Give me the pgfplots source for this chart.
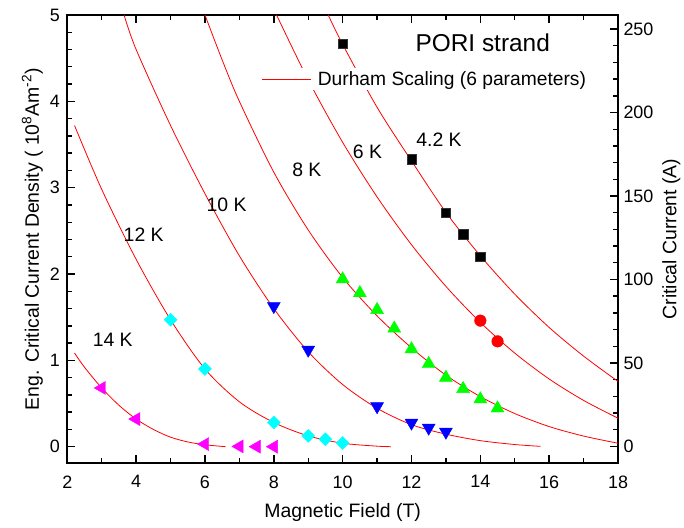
\documentclass[border=0pt]{standalone}
\usepackage{fontspec}
\setmainfont{Liberation Sans}
\usepackage{pgfplots}
\pgfplotsset{compat=1.18}

\definecolor{mkgreen}{RGB}{0,255,0}
\definecolor{mkblue}{RGB}{0,0,255}
\definecolor{mkcyan}{RGB}{0,255,255}
\definecolor{mkmagenta}{RGB}{255,0,255}
\definecolor{mkred}{RGB}{255,0,0}

\pgfplotsset{
  jcframe/.style={
    at={(0,0)}, anchor=south west, scale only axis,
    width=550.7bp, height=448bp,
    xmin=2, xmax=18,
    tick align=inside,
    major tick length=8bp, minor tick length=5bp,
    every tick/.style={black, line width=1.4bp},
    /pgf/number format/assume math mode=true,
    ticklabel style={font=\fontsize{18}{18}\selectfont},
    label style={font=\fontsize{19.5}{22}\selectfont},
  },
  fit/.style={mkred, line width=0.8bp, smooth, no markers},
}

\begin{document}
\begin{tikzpicture}
\useasboundingbox (-67.3bp,-65bp) rectangle (616.7bp,463bp);

% right-hand scale: critical current of the strand
\begin{axis}[
  jcframe,
  ymin=-9.9, ymax=258.4,
  axis x line=none,
  axis y line*=right,
  y axis line style={line width=1.8bp},
  ytick={0,50,...,250}, minor y tick num=4,
  yticklabel style={xshift=2bp},
  ylabel={Critical Current (A)},
  ylabel style={xshift=0bp, yshift=-2bp},
]
\addplot[draw=none, forget plot] coordinates {(2,0)};
\end{axis}

% left-hand scale: engineering critical current density
\begin{axis}[
  jcframe,
  ymin=-0.189, ymax=5,
  axis line style={line width=1.8bp},
  xtick={2,4,...,18}, minor x tick num=1,
  xtick pos=both, xticklabel pos=lower,
  xticklabel style={yshift=-9bp},
  ytick={0,...,5}, minor y tick num=4,
  ytick pos=left,
  yticklabel style={xshift=-4bp},
  xlabel={Magnetic Field (T)},
  xlabel style={yshift=-8bp},
  ylabel={Eng. Critical Current Density ( 10\textsuperscript{8}Am\textsuperscript{-2})},
  legend style={
    at={(axis description cs:0.346,0.857)}, anchor=west,
    draw=none, fill=white, inner xsep=4bp, inner ysep=1bp,
    font=\fontsize{19.3}{21}\selectfont,
  },
  legend image code/.code={\draw[#1] (0bp,0bp) -- (49bp,0bp); \path (53bp,0bp);},
]

% Durham scaling fits
\addplot[fit] coordinates {
  (9.58,5.0) (10,4.66) (11,3.931) (12,3.31) (13,2.714) (14,2.211)
  (15,1.767) (16,1.381) (17,1.049) (18,0.756)};
\addlegendentry{Durham Scaling (6 parameters)}
\addplot[fit, forget plot] coordinates {
  (8.08,5.0) (9,4.248) (10,3.525) (11,2.893) (12,2.339) (13,1.857)
  (14,1.44) (15,1.084) (16,0.784) (17,0.536) (18,0.33)};
\addplot[fit, forget plot] coordinates {
  (6.0,5.0) (6.5,4.479) (7,3.999) (8,3.179) (9,2.510) (10,1.96)
  (11,1.515) (12,1.145) (13,0.828) (14,0.58) (15,0.384) (16,0.233)
  (17,0.123) (18,0.04)};
\addplot[fit, forget plot] coordinates {
  (3.65,5.0) (4,4.6) (5,3.72) (6,2.93) (7,2.21) (8,1.6) (9,1.1)
  (10,0.72) (11,0.445) (12,0.255) (13,0.145) (14,0.07) (15,0.025)
  (15.75,0.004)};
\addplot[fit, forget plot] coordinates {
  (2.21,3.72) (3,2.98) (4,2.17) (5,1.47) (6,0.90) (7,0.52) (8,0.28)
  (9,0.125) (10,0.04) (11,0.006) (11.4,0.0)};
\addplot[fit, forget plot] coordinates {
  (2.21,1.085) (2.5,0.92) (3,0.68) (3.5,0.48) (4,0.32) (4.5,0.2)
  (5,0.11) (5.5,0.055) (6,0.022) (6.6,0.0)};

% measured points
% 4.2 K
\addplot[only marks, forget plot, mark=square*, mark size=4.7bp,
  mark options={fill=black, draw=black!80}] coordinates {
  (10,4.67) (12,3.33) (13,2.71) (13.5,2.46) (14,2.20)};
% 6 K
\addplot[only marks, forget plot, mark=*, mark size=5.8bp,
  mark options={fill=mkred, draw=mkred}] coordinates {
  (14,1.46) (14.5,1.22)};
% 8 K
\addplot[only marks, forget plot, mark=triangle*, mark size=7.5bp,
  mark options={fill=mkgreen, draw=mkgreen}] coordinates {
  (10,1.94) (10.5,1.78) (11,1.585) (11.5,1.37) (12,1.13) (12.5,0.96)
  (13,0.80) (13.5,0.67) (14,0.55) (14.5,0.445)};
% 10 K
\addplot[only marks, forget plot, mark=triangle*, mark size=7.5bp,
  mark options={fill=mkblue, draw=mkblue, rotate=180}] coordinates {
  (8,1.627) (9,1.122) (11,0.467) (12,0.277) (12.5,0.219) (13,0.172)};
% 12 K
\addplot[only marks, forget plot, mark=square*, mark size=4.6bp,
  mark options={fill=mkcyan, draw=mkcyan, rotate=45}] coordinates {
  (5,1.47) (6,0.90) (8,0.28) (9,0.125) (9.5,0.086) (10,0.043)};
% 14 K
\addplot[only marks, forget plot, mark=triangle*, mark size=7.5bp,
  mark options={fill=mkmagenta, draw=mkmagenta, rotate=90}] coordinates {
  (3,0.68) (4,0.32) (6,0.03) (7,0.003) (7.5,0.0) (8,0.0)};

% annotations
\node[font=\fontsize{24.5}{26}\selectfont] at (axis cs:14.07,4.68) {PORI strand};
\begin{scope}[every node/.style={font=\fontsize{19.5}{21}\selectfont}]
\node at (axis cs:12.80,3.556) {4.2 K};
\node at (axis cs:10.72,3.41) {6 K};
\node at (axis cs:8.96,3.21) {8 K};
\node at (axis cs:6.63,2.80) {10 K};
\node at (axis cs:4.22,2.455) {12 K};
\node at (axis cs:3.32,1.237) {14 K};
\end{scope}
\end{axis}
\end{tikzpicture}
\end{document}
